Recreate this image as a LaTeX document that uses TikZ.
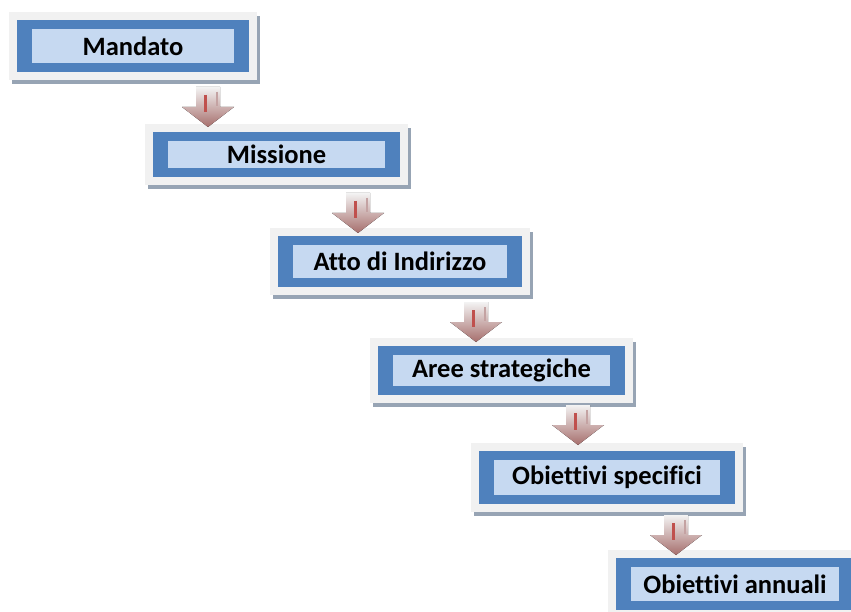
\documentclass[tikz,border=0pt]{standalone}
\usepackage{fontspec}
\setmainfont[Ligatures=NoCommon]{Carlito}
\definecolor{bluec}{HTML}{4F81BD}
\definecolor{innerc}{HTML}{C6D9F1}
\definecolor{outerc}{HTML}{F1F1F1}
\definecolor{shadowc}{HTML}{97A4B4}
\definecolor{arrtop}{HTML}{F3F3F3}
\definecolor{arrbot}{HTML}{A66E6C}
\definecolor{redc}{HTML}{C0504D}
\definecolor{palec}{HTML}{C4A2A2}
\newcommand\flowbox[6]{%
  \fill[shadowfill] (#2+3,#3+4) rectangle (#4+3,#5+4);
  \fill[outerfill] (#2,#3) rectangle (#4,#5);
  \fill[bluefill] (#2+8,#3+8) rectangle (#4-8,#5-8);
  \node[innerbox, minimum width={#4-#2-46}, minimum height={#5-#3-34}] (#1) at ({(#2+#4)/2},{(#3+#5)/2}) {#6};
}
\newcommand\downblock[3]{%
  \coordinate (#1) at (#2,#3);
  \fill[arrowbody] (#2-12,#3) -- (#2+12,#3) -- (#2+12,#3+20) -- (#2+26,#3+20) -- (#2,#3+40) -- (#2-26,#3+20) -- (#2-12,#3+20) -- cycle;
  \draw[redbar] (#2-2.5,#3+8) -- (#2-2.5,#3+25);
  \draw[palebar] (#2+9,#3+5) -- (#2+9,#3+19);
}
\begin{document}
\begin{tikzpicture}[x=1pt,y=-1pt,
  shadowfill/.style={fill=shadowc},
  outerfill/.style={fill=outerc},
  bluefill/.style={fill=bluec},
  innerbox/.style={fill=innerc, inner sep=0pt, text=black, font=\fontsize{26.5}{30}\selectfont\bfseries},
  arrowbody/.style={top color=arrtop, middle color=arrtop, bottom color=arrbot},
  redbar/.style={draw=redc, line width=3.5pt},
  palebar/.style={draw=palec, line width=2.5pt}]
\useasboundingbox (0,0) rectangle (851,612);
\begin{scope}
\clip (0,0) rectangle (851,612);
\flowbox{b1}{9}{12}{257}{80}{Mandato}
\flowbox{b2}{145}{124}{408}{185}{Missione}
\flowbox{b3}{270}{228}{530}{295}{Atto di Indirizzo}
\flowbox{b4}{370}{338}{633}{403}{Aree strategiche}
\flowbox{b5}{471}{443}{743}{512}{Obiettivi specifici}
\flowbox{b6}{608}{550}{862}{618}{Obiettivi annuali}
\downblock{a1}{208}{87}
\downblock{a2}{358}{193}
\downblock{a3}{476}{302}
\downblock{a4}{578}{405}
\downblock{a5}{676}{515}
\end{scope}
\end{tikzpicture}
\end{document}
